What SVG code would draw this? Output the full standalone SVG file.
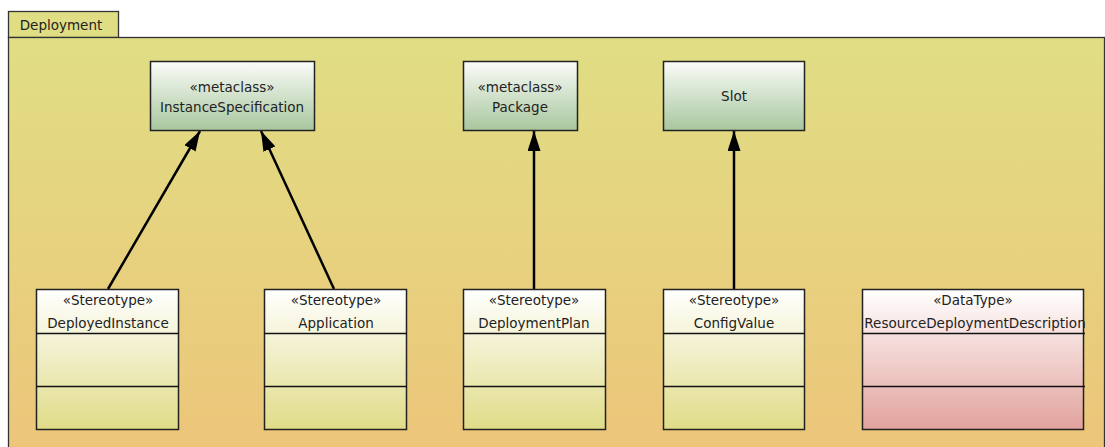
<svg xmlns="http://www.w3.org/2000/svg" width="1105" height="447" viewBox="0 0 1105 447">
<defs>
<linearGradient id="bg" x1="0" y1="0" x2="0" y2="1"><stop offset="0" stop-color="#E0DE84"/><stop offset="1" stop-color="#EDC57A"/></linearGradient>
<linearGradient id="meta" x1="0" y1="0" x2="0" y2="1"><stop offset="0" stop-color="#FAFCF8"/><stop offset="1" stop-color="#A8C69E"/></linearGradient>
<linearGradient id="ster" x1="0" y1="0" x2="0" y2="1"><stop offset="0" stop-color="#FFFFFF"/><stop offset="1" stop-color="#E0DC88"/></linearGradient>
<linearGradient id="dt" x1="0" y1="0" x2="0" y2="1"><stop offset="0" stop-color="#FFFFFF"/><stop offset="1" stop-color="#E2A29C"/></linearGradient>
<marker id="ah" markerWidth="20" markerHeight="13" refX="20" refY="6.5" orient="auto" markerUnits="userSpaceOnUse" viewBox="0 0 20 13"><path d="M0,0 L20,6.5 L0,13 z" fill="#000"/></marker>
</defs>
<style>
text{font-family:"DejaVu Sans",Verdana,sans-serif;font-size:13.5px;fill:#222;text-anchor:middle}
.box{stroke:#222;stroke-width:1.5}
.line{stroke:#111;stroke-width:1.5;fill:none}
.conn{stroke:#000;stroke-width:2.5;fill:none}
</style>
<g id="frame">
<rect x="8.5" y="11.5" width="110" height="26" fill="#E0DE84" stroke="#333" stroke-width="1.3"/>
<rect x="8.5" y="37.5" width="1096" height="420" fill="url(#bg)" stroke="#333" stroke-width="1.3"/>
<text x="61" y="30">Deployment</text>
</g>
<g id="connectors">
<line class="conn" x1="108" y1="289" x2="200" y2="131" marker-end="url(#ah)"/>
<line class="conn" x1="334" y1="289" x2="261" y2="131" marker-end="url(#ah)"/>
<line class="conn" x1="534" y1="289" x2="534" y2="131" marker-end="url(#ah)"/>
<line class="conn" x1="734" y1="289" x2="734" y2="131" marker-end="url(#ah)"/>
</g>
<g id="InstanceSpecification">
<rect class="box" x="150.5" y="61.5" width="164" height="69" fill="url(#meta)"/>
<text x="232" y="92">«metaclass»</text>
<text x="232" y="112">InstanceSpecification</text>
</g>
<g id="Package">
<rect class="box" x="463.5" y="61.5" width="114" height="69" fill="url(#meta)"/>
<text x="520" y="92">«metaclass»</text>
<text x="520" y="112">Package</text>
</g>
<g id="Slot">
<rect class="box" x="663.5" y="61.5" width="141" height="69" fill="url(#meta)"/>
<text x="734" y="101">Slot</text>
</g>
<g id="DeployedInstance">
<rect class="box" x="36.5" y="289.5" width="142" height="140" fill="url(#ster)"/>
<line class="line" x1="36.5" y1="333.5" x2="179" y2="333.5"/>
<line class="line" x1="36.5" y1="386.5" x2="179" y2="386.5"/>
<text x="108" y="305">«Stereotype»</text>
<text x="108" y="328">DeployedInstance</text>
</g>
<g id="Application">
<rect class="box" x="264.5" y="289.5" width="142" height="140" fill="url(#ster)"/>
<line class="line" x1="264.5" y1="333.5" x2="407" y2="333.5"/>
<line class="line" x1="264.5" y1="386.5" x2="407" y2="386.5"/>
<text x="336" y="305">«Stereotype»</text>
<text x="336" y="328">Application</text>
</g>
<g id="DeploymentPlan">
<rect class="box" x="463.5" y="289.5" width="142" height="140" fill="url(#ster)"/>
<line class="line" x1="463.5" y1="333.5" x2="606" y2="333.5"/>
<line class="line" x1="463.5" y1="386.5" x2="606" y2="386.5"/>
<text x="534" y="305">«Stereotype»</text>
<text x="534" y="328">DeploymentPlan</text>
</g>
<g id="ConfigValue">
<rect class="box" x="663.5" y="289.5" width="141" height="140" fill="url(#ster)"/>
<line class="line" x1="663.5" y1="333.5" x2="805" y2="333.5"/>
<line class="line" x1="663.5" y1="386.5" x2="805" y2="386.5"/>
<text x="734" y="305">«Stereotype»</text>
<text x="734" y="328">ConfigValue</text>
</g>
<g id="ResourceDeploymentDescription">
<rect class="box" x="862.5" y="289.5" width="221" height="140" fill="url(#dt)"/>
<line class="line" x1="862.5" y1="333.5" x2="1085" y2="333.5"/>
<line class="line" x1="862.5" y1="386.5" x2="1085" y2="386.5"/>
<text x="973" y="305">«DataType»</text>
<text x="975" y="328">ResourceDeploymentDescription</text>
</g>
</svg>
